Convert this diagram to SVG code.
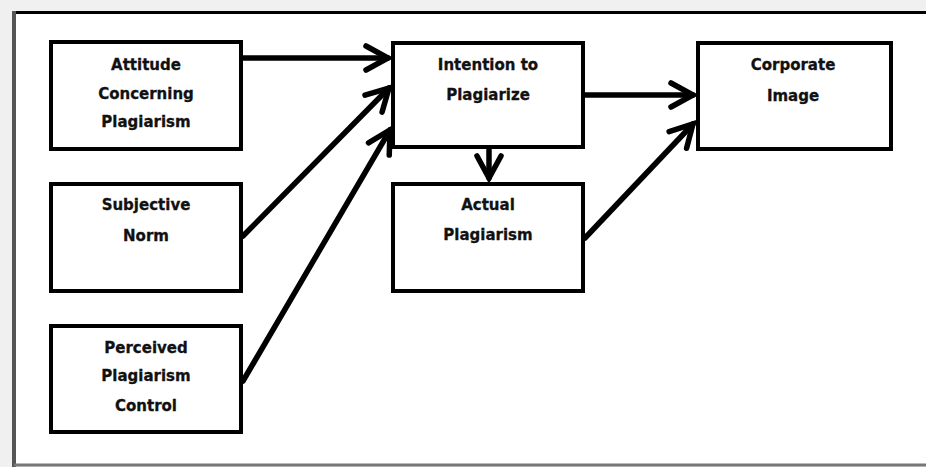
<svg xmlns="http://www.w3.org/2000/svg" width="926" height="467" viewBox="0 0 926 467">
<defs>
<style>
.box{fill:#fff;stroke:#000;stroke-width:4}
.lbl{font-family:"DejaVu Sans",Verdana,sans-serif;font-weight:bold;font-size:15px;fill:#111;text-anchor:middle;stroke:#111;stroke-width:0.3}
.conn{stroke:#000;stroke-width:5.5;fill:none;stroke-linecap:round}
</style>
<marker id="ah" markerUnits="userSpaceOnUse" markerWidth="34" markerHeight="34" viewBox="-27 -17 31 34" refX="0" refY="0" orient="auto">
<path d="M-22,-12 L0,0 L-22,12" fill="none" stroke="#000" stroke-width="5.5" stroke-linecap="round" stroke-linejoin="miter"/>
</marker>
</defs>
<rect x="0" y="0" width="926" height="467" fill="#f0f0f0"/>
<rect x="14" y="12" width="920" height="454" fill="#fff"/>
<line x1="14" y1="12.5" x2="926" y2="12.5" stroke="#000" stroke-width="3"/>
<line x1="14" y1="11" x2="14" y2="467" stroke="#555" stroke-width="4"/>
<line x1="14" y1="465" x2="926" y2="465" stroke="#777" stroke-width="3"/>
<g id="connectors">
<line class="conn" x1="242" y1="58" x2="388" y2="58" marker-end="url(#ah)"/>
<line class="conn" x1="243" y1="236" x2="389" y2="88" marker-end="url(#ah)"/>
<line class="conn" x1="243" y1="381" x2="390" y2="130" marker-end="url(#ah)"/>
<line class="conn" x1="585" y1="95" x2="693" y2="95" marker-end="url(#ah)"/>
<line class="conn" x1="489" y1="150" x2="489" y2="178" marker-end="url(#ah)"/>
<line class="conn" x1="585" y1="238" x2="693" y2="124" marker-end="url(#ah)"/>
</g>
<g id="attitude">
<rect class="box" x="51" y="42" width="190" height="107"/>
<text class="lbl" x="146" y="70">Attitude</text>
<text class="lbl" x="146" y="99">Concerning</text>
<text class="lbl" x="146" y="127">Plagiarism</text>
</g>
<g id="subjective">
<rect class="box" x="51" y="184" width="190" height="107"/>
<text class="lbl" x="146" y="210">Subjective</text>
<text class="lbl" x="146" y="241">Norm</text>
</g>
<g id="perceived">
<rect class="box" x="51" y="326" width="190" height="106"/>
<text class="lbl" x="146" y="353">Perceived</text>
<text class="lbl" x="146" y="381">Plagiarism</text>
<text class="lbl" x="146" y="411">Control</text>
</g>
<g id="intention">
<rect class="box" x="393" y="43" width="190" height="104"/>
<text class="lbl" x="488" y="70">Intention to</text>
<text class="lbl" x="488" y="100">Plagiarize</text>
</g>
<g id="actual">
<rect class="box" x="393" y="184" width="190" height="107"/>
<text class="lbl" x="488" y="210">Actual</text>
<text class="lbl" x="488" y="240">Plagiarism</text>
</g>
<g id="corporate">
<rect class="box" x="698" y="43" width="193" height="106"/>
<text class="lbl" x="793" y="70">Corporate</text>
<text class="lbl" x="793" y="101">Image</text>
</g>
</svg>
